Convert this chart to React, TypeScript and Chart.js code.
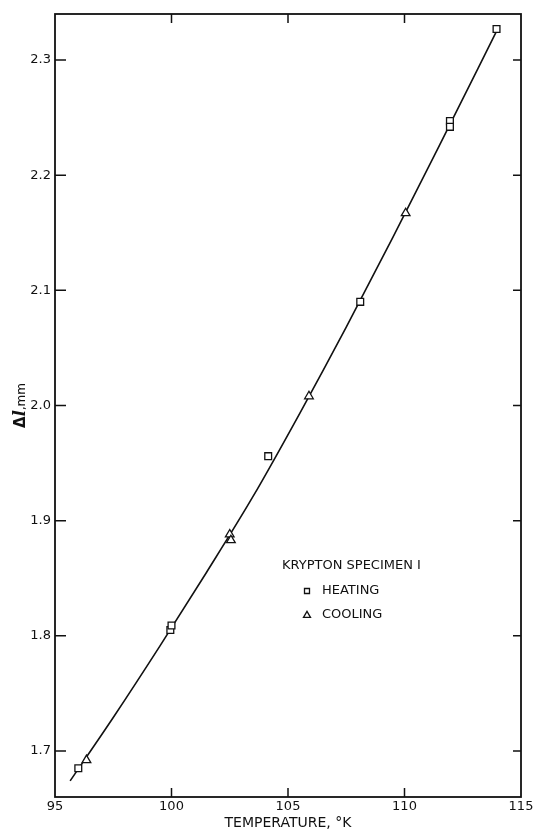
import React, { useEffect, useRef } from "react";
import { Chart, registerables } from "chart.js";

Chart.register(...registerables);

// ---- data ----
const X_TICKS = [95, 100, 105, 110, 115];
const Y_TICKS = [1.7, 1.8, 1.9, 2.0, 2.1, 2.2, 2.3];

const HEATING_T = [96.0, 99.95, 100.0, 104.15, 108.1, 111.95, 111.95, 113.95];
const HEATING_DL = [1.685, 1.805, 1.809, 1.956, 2.09, 2.247, 2.242, 2.327];

const COOLING_T = [96.35, 102.5, 102.55, 105.9, 110.05];
const COOLING_DL = [1.692, 1.888, 1.883, 2.008, 2.167];

const CURVE_T = [95.65, 97.5, 99.5, 101.5, 103.5, 105.5, 107.5, 109.5, 111.5, 114.0];
const CURVE_DL = [1.674, 1.729, 1.791, 1.855, 1.921, 1.993, 2.068, 2.146, 2.226, 2.327];

const LEGEND_TITLE = "KRYPTON SPECIMEN I";
const HEATING_LABEL = "HEATING";
const COOLING_LABEL = "COOLING";
const X_TITLE = "TEMPERATURE, °K";
const Y_TITLE_PARTS = ["Δ", "l", ",mm"];

const FONT = "'DejaVu Sans', 'Liberation Sans', sans-serif";
const INK = "#111";

const pts = (xs: number[], ys: number[]) => xs.map((x, i) => ({ x, y: ys[i] }));

function drawSquare(ctx: CanvasRenderingContext2D, x: number, y: number, s: number) {
  ctx.beginPath();
  ctx.rect(x - s / 2, y - s / 2, s, s);
  ctx.fill();
  ctx.stroke();
}
function drawTriangle(ctx: CanvasRenderingContext2D, x: number, y: number, w: number, h: number) {
  ctx.beginPath();
  ctx.moveTo(x, y - h * 0.6);
  ctx.lineTo(x + w / 2, y + h * 0.4);
  ctx.lineTo(x - w / 2, y + h * 0.4);
  ctx.closePath();
  ctx.fill();
  ctx.stroke();
}

const framePlugin = {
  id: "frame",
  beforeDraw(chart: any) {
    const { ctx } = chart;
    ctx.save();
    ctx.fillStyle = "#fff";
    ctx.fillRect(0, 0, chart.width, chart.height);
    ctx.restore();
  },
  beforeDatasetsDraw(chart: any) {
    const { ctx, chartArea: a, scales } = chart;
    ctx.save();
    ctx.strokeStyle = INK;
    ctx.lineWidth = 1.8;
    ctx.strokeRect(a.left, a.top, a.right - a.left, a.bottom - a.top);
    ctx.lineWidth = 1.5;
    ctx.beginPath();
    for (const v of X_TICKS) {
      const px = scales.x.getPixelForValue(v);
      if (px <= a.left + 1 || px >= a.right - 1) continue;
      ctx.moveTo(px, a.bottom);
      ctx.lineTo(px, a.bottom - 9);
      ctx.moveTo(px, a.top);
      ctx.lineTo(px, a.top + 9);
    }
    for (const v of Y_TICKS) {
      const py = scales.y.getPixelForValue(v);
      ctx.moveTo(a.left, py);
      ctx.lineTo(a.left + 11, py);
      ctx.moveTo(a.right, py);
      ctx.lineTo(a.right - 8, py);
    }
    ctx.stroke();
    ctx.restore();
  },
  afterDraw(chart: any) {
    const { ctx, chartArea: a } = chart;
    ctx.save();
    // Y axis title (rotated, mixed fonts)
    const fonts = [
      `bold 15px ${FONT}`,
      `bold italic 16px 'DejaVu Serif', serif`,
      `12px ${FONT}`,
    ];
    let total = 0;
    const widths = Y_TITLE_PARTS.map((t, i) => {
      ctx.font = fonts[i];
      const w = ctx.measureText(t).width;
      total += w;
      return w;
    });
    ctx.translate(25, (a.top + a.bottom) / 2);
    ctx.rotate(-Math.PI / 2);
    ctx.fillStyle = INK;
    ctx.textBaseline = "alphabetic";
    ctx.textAlign = "left";
    let cx = -total / 2;
    Y_TITLE_PARTS.forEach((t, i) => {
      ctx.font = fonts[i];
      ctx.fillText(t, cx, 0);
      cx += widths[i];
    });
    ctx.restore();

    // Legend block
    ctx.save();
    ctx.fillStyle = INK;
    ctx.font = `13px ${FONT}`;
    ctx.textBaseline = "middle";
    ctx.textAlign = "left";
    ctx.fillText(LEGEND_TITLE, 282, 566);
    ctx.fillText(HEATING_LABEL, 322, 591);
    ctx.fillText(COOLING_LABEL, 322, 615);
    ctx.strokeStyle = INK;
    ctx.fillStyle = "#fff";
    ctx.lineWidth = 1.3;
    drawSquare(ctx, 307, 591, 5);
    drawTriangle(ctx, 307, 615, 7, 6);
    ctx.restore();
  },
};

export default function App() {
  const ref = useRef<HTMLCanvasElement | null>(null);

  useEffect(() => {
    if (!ref.current) return;
    const chart = new Chart(ref.current, {
      type: "scatter",
      data: {
        datasets: [
          {
            label: "curve",
            data: pts(CURVE_T, CURVE_DL),
            showLine: true,
            borderColor: INK,
            borderWidth: 1.6,
            pointRadius: 0,
            cubicInterpolationMode: "monotone",
            order: 3,
          },
          {
            label: HEATING_LABEL,
            data: pts(HEATING_T, HEATING_DL),
            pointStyle: "rect",
            pointRadius: 4.8,
            pointBackgroundColor: "#fff",
            pointBorderColor: INK,
            pointBorderWidth: 1.3,
            showLine: false,
            order: 1,
          },
          {
            label: COOLING_LABEL,
            data: pts(COOLING_T, COOLING_DL),
            pointStyle: "triangle",
            pointRadius: 5,
            pointBackgroundColor: "#fff",
            pointBorderColor: INK,
            pointBorderWidth: 1.3,
            showLine: false,
            order: 2,
          },
        ],
      },
      options: {
        responsive: false,
        animation: false,
        events: [],
        layout: { padding: { left: 0, right: 12, top: 14, bottom: 0 } },
        plugins: {
          legend: { display: false },
          tooltip: { enabled: false },
          title: { display: false },
        },
        scales: {
          x: {
            type: "linear",
            min: 95,
            max: 115,
            afterBuildTicks: (s: any) => {
              s.ticks = X_TICKS.map((v) => ({ value: v }));
            },
            afterFit: (s: any) => {
              s.height = 35;
              s.paddingLeft = 0;
              s.paddingRight = 0;
            },
            grid: { display: false, drawTicks: false },
            border: { display: false },
            ticks: {
              padding: 2,
              color: INK,
              maxRotation: 0,
              autoSkip: false,
              font: { family: FONT, size: 13 },
              callback: (v: any) => String(v),
            },
            title: {
              display: true,
              text: X_TITLE,
              color: INK,
              font: { family: FONT, size: 14 },
              padding: { top: 0, bottom: 0 },
            },
          },
          y: {
            type: "linear",
            min: 1.66,
            max: 2.34,
            afterBuildTicks: (s: any) => {
              s.ticks = Y_TICKS.map((v) => ({ value: v }));
            },
            afterFit: (s: any) => {
              s.width = 55;
              s.paddingTop = 0;
              s.paddingBottom = 0;
            },
            grid: { display: false, drawTicks: false },
            border: { display: false },
            ticks: {
              padding: 4,
              color: INK,
              autoSkip: false,
              font: { family: FONT, size: 13 },
              callback: (v: any) => Number(v).toFixed(1),
            },
          },
        },
      },
      plugins: [framePlugin],
    } as any);
    return () => chart.destroy();
  }, []);

  return (
    <div style={{ position: "absolute", left: 0, top: 0, width: 533, height: 832, background: "#fff" }}>
      <canvas ref={ref} width={533} height={832} style={{ display: "block" }} />
    </div>
  );
}
